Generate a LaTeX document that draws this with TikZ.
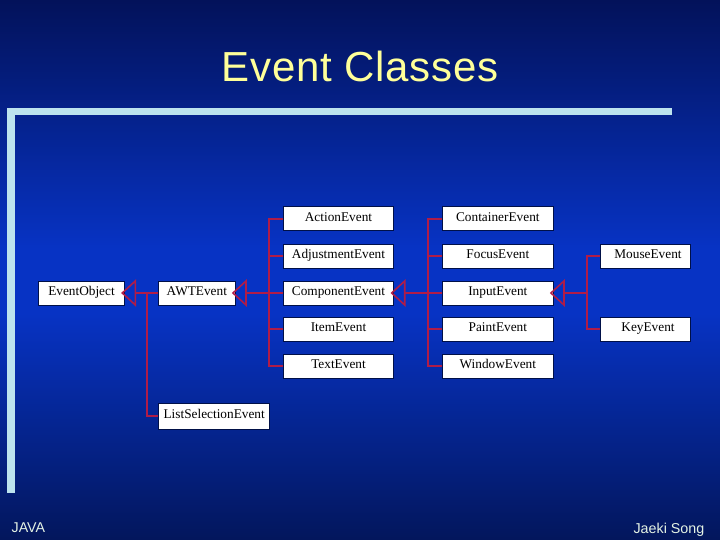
\documentclass[tikz,border=0pt]{standalone}
\usepackage{fontspec}
\setmainfont{Liberation Serif}
\newfontfamily\sansf{Liberation Sans}
\newfontfamily\titlef[LetterSpace=1.7]{Liberation Sans}
\definecolor{crim}{HTML}{B01C48}
\definecolor{frameblue}{HTML}{BDE3EE}
\definecolor{shade1}{HTML}{03125A}
\definecolor{shade2}{HTML}{0733C4}
\definecolor{shade3}{HTML}{03165C}
\definecolor{edgenavy}{HTML}{001048}
\definecolor{titley}{HTML}{FFFF99}
\definecolor{foot}{HTML}{E4F2E4}
\pgfdeclareverticalshading{slidebg}{100bp}{
  color(0bp)=(shade3);
  color(25bp)=(shade3);
  color(46bp)=(shade2);
  color(52bp)=(shade2);
  color(75bp)=(shade1);
  color(100bp)=(shade1)}
\tikzset{
  cls/.style={draw=edgenavy,line width=1pt,fill=white,inner sep=0pt,text height=7.5pt,text depth=2.5pt,font=\fontsize{13.3}{15}\selectfont,text=black},
  rel/.style={draw=crim,line width=1.6pt,line join=miter},
  tri/.style={draw=crim,line width=1.6pt,line join=miter},
  bar/.style={fill=frameblue,draw=none},
}
\begin{document}
\begin{tikzpicture}[x=1pt,y=-1pt]
\useasboundingbox (0,0) rectangle (720,540);
\shade[shading=slidebg] (0,0) rectangle (720,540);
\fill[bar] (7,108) rectangle (672,115);
\fill[bar] (7,108) rectangle (15,493);
\node[text=titley,font=\titlef\fontsize{42}{48}\selectfont,anchor=base,inner sep=0pt] (title) at (360,82) {Event Classes};
\node[text=foot,font=\sansf\fontsize{14.2}{16}\selectfont,anchor=base west,inner sep=0pt] (java) at (11.5,532) {JAVA};
\node[text=foot,font=\sansf\fontsize{14.3}{16}\selectfont,anchor=base east,inner sep=0pt] (author) at (704.5,533.5) {Jaeki Song};
% boxes
\newcommand{\cbox}[6]{\node[cls,minimum width=#4 pt-#3 pt,minimum height=#6 pt-#5 pt] (#1) at ({(#3+#4)/2},{(#5+#6)/2}) {#2};}
\cbox{eo}{EventObject}{38.7}{124.3}{281}{305}
\cbox{awt}{AWTEvent}{158.7}{235}{281}{305}
\cbox{ls}{ListSelectionEvent}{158.7}{269.7}{403}{429}
\cbox{action}{ActionEvent}{283.3}{393.7}{207}{231}
\cbox{adjust}{AdjustmentEvent}{283.3}{393.7}{244}{268}
\cbox{comp}{ComponentEvent}{283.3}{393.7}{281}{305}
\cbox{item}{ItemEvent}{283.3}{393.7}{317}{341}
\cbox{text}{TextEvent}{283.3}{393.7}{354}{378}
\cbox{cont}{ContainerEvent}{442.7}{553}{207}{231}
\cbox{focus}{FocusEvent}{442.7}{553}{244}{268}
\cbox{input}{InputEvent}{442.7}{553}{281}{305}
\cbox{paint}{PaintEvent}{442.7}{553}{317}{341}
\cbox{window}{WindowEvent}{442.7}{553}{354}{378}
\cbox{mouse}{\hspace{6pt}MouseEvent}{600}{690}{244}{268}
\cbox{key}{\hspace{6pt}KeyEvent}{600}{690}{317}{341}
% triangles
\coordinate (t1) at ([xshift=10.5pt]eo.east);
\coordinate (t2) at ([xshift=10.5pt]awt.east);
\coordinate (t3) at ([xshift=10.5pt]comp.east);
\coordinate (t4) at ([xshift=10.5pt]input.east);
\draw[tri] ([xshift=-2.5pt]eo.east) -- ([yshift=-12pt]t1.center) -- ([yshift=12pt]t1.center) -- cycle;
\draw[tri] ([xshift=-2.5pt]awt.east) -- ([yshift=-12pt]t2.center) -- ([yshift=12pt]t2.center) -- cycle;
\draw[tri] ([xshift=-2.5pt]comp.east) -- ([yshift=-12pt]t3.center) -- ([yshift=12pt]t3.center) -- cycle;
\draw[tri] ([xshift=-2.5pt]input.east) -- ([yshift=-12pt]t4.center) -- ([yshift=12pt]t4.center) -- cycle;
% connectors
\draw[rel] (awt.west) -- (t1);
\coordinate (b0) at (146.7,293);
\draw[rel] (b0) |- (ls.west);
\coordinate (b1) at (269,293);
\draw[rel] (comp.west) -- (t2);
\draw[rel] (action.west) -| (b1);
\draw[rel] (adjust.west) -- (adjust.west -| b1);
\draw[rel] (item.west) -- (item.west -| b1);
\draw[rel] (text.west) -| (b1);
\coordinate (b2) at (427.7,293);
\draw[rel] (input.west) -- (t3);
\draw[rel] (cont.west) -| (b2);
\draw[rel] (focus.west) -- (focus.west -| b2);
\draw[rel] (paint.west) -- (paint.west -| b2);
\draw[rel] (window.west) -| (b2);
\coordinate (b3) at (586.7,293);
\draw[rel] (b3) -- (t4);
\draw[rel] (mouse.west) -| (b3);
\draw[rel] (key.west) -| (b3);
\end{tikzpicture}
\end{document}
